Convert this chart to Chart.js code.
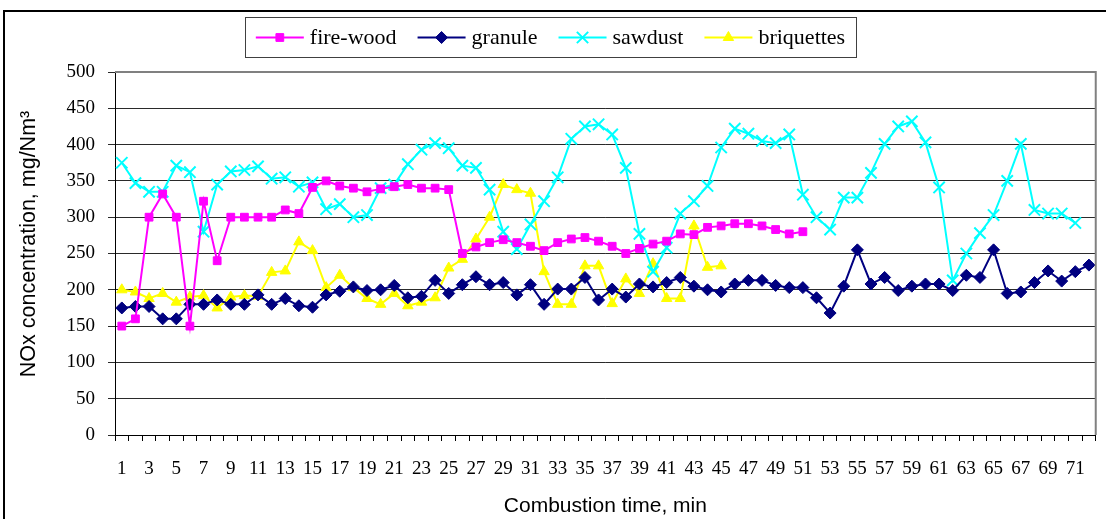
<!DOCTYPE html>
<html>
<head>
<meta charset="utf-8">
<script src="https://cdn.jsdelivr.net/npm/chart.js@4"></script>
<style>
  body { margin: 0; background: #fff; }
</style>
</head>
<body>
<canvas id="myChart" width="1106" height="519"></canvas>
<script>
// combustion time, min
var minutes = [1,2,3,4,5,6,7,8,9,10,11,12,13,14,15,16,17,18,19,20,21,22,23,24,25,26,27,28,29,30,31,32,33,34,35,36,
    37,38,39,40,41,42,43,44,45,46,47,48,49,50,51,52,53,54,55,56,57,58,59,60,61,62,63,64,65,66,67,68,69,70,71,72];

// NOx, mg/Nm3
var fireWood = [150,160,300,332,300,150,322,240,300,300,300,300,310,305,341,350,343,340,335,339,
    342,345,340,340,338,250,259,265,269,265,260,254,265,270,272,267,260,250,257,263,
    267,277,276,286,288,291,291,288,283,277,280];
var granule = [175,177,177,160,160,180,180,186,180,180,193,180,188,178,176,193,198,204,199,200,
    206,189,191,213,195,207,218,207,210,193,207,180,201,201,217,186,201,190,208,204,
    210,217,205,200,197,208,213,213,206,203,203,189,168,205,255,208,217,199,205,208,
    208,199,220,217,255,195,197,210,226,212,225,234];
var sawdust = [375,347,335,335,371,362,280,345,363,365,370,353,355,342,348,311,318,300,303,340,
    345,373,393,402,395,371,368,338,280,256,290,322,355,408,425,428,414,368,277,225,
    258,305,322,343,396,422,415,405,402,414,331,300,283,327,327,361,401,425,432,403,
    341,213,250,278,303,350,401,310,305,305,292];
var briquettes = [200,197,188,195,183,190,192,175,190,192,191,224,226,266,254,203,220,203,188,180,
    195,178,183,189,230,242,270,300,345,338,333,225,180,180,233,233,181,215,195,236,
    188,188,288,231,233];

var yTicks = [0,50,100,150,200,250,300,350,400,450,500];
var yTitle = 'NOx concentration, mg/Nm³';

var serif = "'Liberation Serif', 'Times New Roman', serif";
var sans = "'Liberation Sans', Arial, sans-serif";

// rámeček grafu, nadpis osy Y a legenda kreslené ručně (jako v Excelu)
var framePlugin = {
    id: 'frame',
    beforeDraw: function (chart) {
        var ctx = chart.ctx;
        ctx.save();
        ctx.fillStyle = '#fff';
        ctx.fillRect(0, 0, chart.width, chart.height);
        ctx.restore();
    },
    afterDraw: function (chart) {
        var ctx = chart.ctx;
        var a = chart.chartArea;
        ctx.save();
        // plot border top / right
        ctx.strokeStyle = '#808080';
        ctx.lineWidth = 2;
        ctx.beginPath();
        ctx.moveTo(a.left, a.top);
        ctx.lineTo(a.right, a.top);
        ctx.lineTo(a.right, a.bottom);
        ctx.stroke();

        // outer frame
        ctx.strokeStyle = '#000';
        ctx.lineWidth = 2;
        ctx.strokeRect(4, 11, 1120, 530);

        // y title
        ctx.save();
        ctx.translate(29, 244);
        ctx.rotate(-Math.PI / 2);
        ctx.font = '21.5px ' + sans;
        ctx.fillStyle = '#000';
        ctx.textAlign = 'center';
        ctx.textBaseline = 'middle';
        ctx.fillText(yTitle, 0, 0);
        ctx.restore();

        // legend box
        var bx = 245, by = 17, bw = 611, bh = 40;
        ctx.fillStyle = '#fff';
        ctx.fillRect(bx, by, bw, bh);
        ctx.strokeStyle = '#404040';
        ctx.lineWidth = 1;
        ctx.strokeRect(bx + 0.5, by + 0.5, bw, bh);

        ctx.font = '22px ' + serif;
        var sets = chart.data.datasets;
        var lineLen = 48, gapText = 6, gapItem = 21;
        var total = 0;
        sets.forEach(function (ds, i) {
            total += lineLen + gapText + ctx.measureText(ds.label).width;
            if (i < sets.length - 1) total += gapItem;
        });
        var x = bx + (bw - total) / 2;
        var cy = by + bh / 2 + 0.5;
        sets.forEach(function (ds) {
            ctx.strokeStyle = ds.borderColor;
            ctx.fillStyle = ds.backgroundColor;
            ctx.lineWidth = 2;
            ctx.beginPath();
            ctx.moveTo(x, cy);
            ctx.lineTo(x + lineLen, cy);
            ctx.stroke();
            ctx.lineWidth = ds.pointBorderWidth;
            Chart.helpers.drawPoint(ctx, {
                pointStyle: ds.pointStyle,
                radius: ds.pointRadius,
                borderWidth: ds.pointBorderWidth,
                rotation: 0
            }, x + lineLen / 2, cy);
            x += lineLen + gapText;
            ctx.fillStyle = '#000';
            ctx.textBaseline = 'middle';
            ctx.textAlign = 'left';
            ctx.fillText(ds.label, x, cy + 1);
            x += ctx.measureText(ds.label).width + gapItem;
        });
        ctx.restore();
    }
};

var ctx = document.getElementById('myChart').getContext('2d');
var myChart = new Chart(ctx, {
    type: 'line',
    data: {
        labels: minutes,
        datasets: [{
            label: 'fire-wood',
            data: fireWood,
            borderColor: '#FF00FF',
            backgroundColor: '#FF00FF',
            borderWidth: 2,
            pointStyle: 'rect',
            pointRadius: 5.5,
            pointBorderWidth: 1,
            tension: 0
        }, {
            label: 'granule',
            data: granule,
            borderColor: '#000080',
            backgroundColor: '#000080',
            borderWidth: 2,
            pointStyle: 'rectRot',
            pointRadius: 6,
            pointBorderWidth: 1,
            tension: 0
        }, {
            label: 'sawdust',
            data: sawdust,
            borderColor: '#00FFFF',
            backgroundColor: '#00FFFF',
            borderWidth: 2,
            pointStyle: 'crossRot',
            pointRadius: 8,
            pointBorderWidth: 2,
            tension: 0
        }, {
            label: 'briquettes',
            data: briquettes,
            borderColor: '#FFFF00',
            backgroundColor: '#FFFF00',
            borderWidth: 2,
            pointStyle: 'triangle',
            pointRadius: 6,
            pointBorderWidth: 1,
            tension: 0
        }]
    },
    options: {
        responsive: false,
        animation: false,
        layout: { padding: { top: 72, right: 6, left: 0, bottom: 0 } },
        plugins: {
            legend: { display: false },
            tooltip: { enabled: false }
        },
        scales: {
            x: {
                offset: true,
                grid: {
                    offset: true,
                    drawOnChartArea: false,
                    drawTicks: true,
                    tickLength: 6,
                    color: '#000'
                },
                border: { color: '#000', width: 1 },
                ticks: {
                    autoSkip: false,
                    maxRotation: 0,
                    minRotation: 0,
                    padding: 17,
                    color: '#000',
                    font: { family: serif, size: 19 },
                    callback: function (v, i) {
                        return i % 2 === 0 ? String(minutes[i]) : '';
                    }
                },
                title: {
                    display: true,
                    text: 'Combustion time, min',
                    color: '#000',
                    font: { family: sans, size: 21 },
                    padding: { top: 4, bottom: 0 }
                },
                afterFit: function (s) { s.height = 84; }
            },
            y: {
                min: 0,
                max: 500,
                afterBuildTicks: function (s) {
                    s.ticks = yTicks.map(function (v) { return { value: v }; });
                },
                grid: {
                    color: '#2a2a2a',
                    lineWidth: 1,
                    drawTicks: true,
                    tickLength: 7
                },
                border: { color: '#000', width: 1 },
                ticks: {
                    padding: 13,
                    color: '#000',
                    font: { family: serif, size: 19 }
                },
                afterFit: function (s) { s.width = 115; }
            }
        }
    },
    plugins: [framePlugin]
});
</script>
</body>
</html>
